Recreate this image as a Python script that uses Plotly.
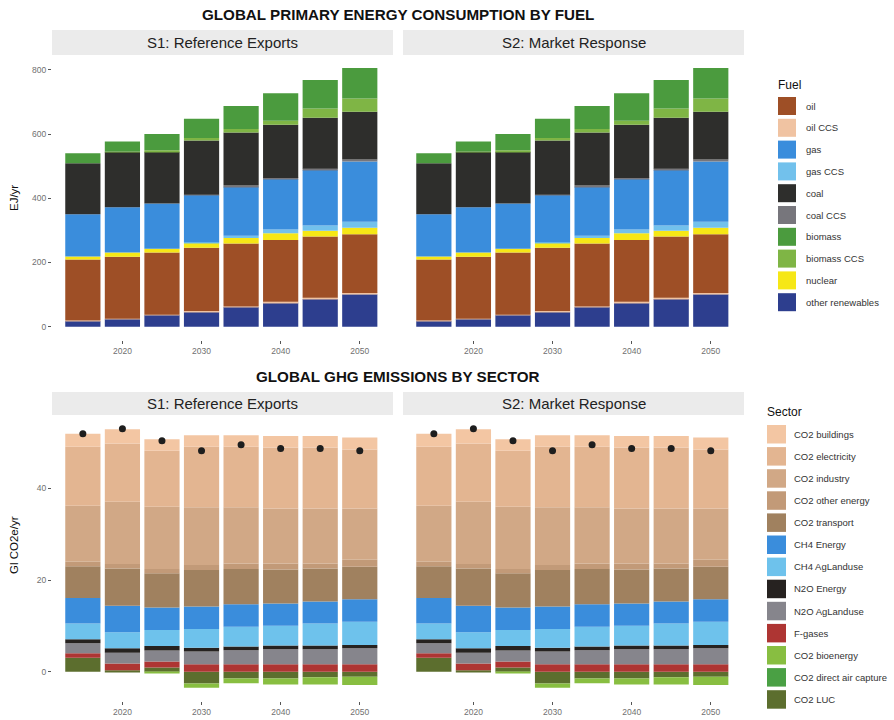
import plotly.graph_objects as go

W, H = 894, 720

years = [2015, 2020, 2025, 2030, 2035, 2040, 2045, 2050]
x_ticks = [2020, 2030, 2040, 2050]
scenarios = ["S1: Reference Exports", "S2: Market Response"]

# ---------------- Energy by fuel (EJ/yr), stacked bottom -> top ----------------
other_renewables = [18, 24, 36, 47, 61, 75, 86, 101]
oil_ccs          = [1, 1, 1, 2, 2, 3, 4, 4]
oil              = [190, 193, 194, 197, 196, 192, 191, 183]
nuclear          = [10, 13, 12, 16, 17, 21, 18, 20]
gas_ccs          = [0, 0, 0, 1, 7, 12, 16, 19]
gas              = [131, 141, 141, 147, 154, 157, 173, 188]
coal_ccs         = [0, 0, 0, 1, 3, 3, 4, 6]
coal             = [159, 173, 161, 169, 165, 166, 159, 149]
biomass_ccs      = [0, 1, 5, 8, 11, 13, 29, 41]
biomass          = [31, 31, 50, 60, 72, 85, 89, 95]

fuel_names = ["oil", "oil CCS", "gas", "gas CCS", "coal", "coal CCS",
              "biomass", "biomass CCS", "nuclear", "other renewables"]
fuel_colors = {
    "oil": "#9E4F26", "oil CCS": "#F0C3A2", "gas": "#3A8DDC",
    "gas CCS": "#72C1EC", "coal": "#2E2E2C", "coal CCS": "#77767C",
    "biomass": "#4B9B3E", "biomass CCS": "#7FB545", "nuclear": "#F6E716",
    "other renewables": "#2D3E8E",
}
fuel_stack = [
    ("other renewables", other_renewables), ("oil CCS", oil_ccs), ("oil", oil),
    ("nuclear", nuclear), ("gas CCS", gas_ccs), ("gas", gas),
    ("coal CCS", coal_ccs), ("coal", coal), ("biomass CCS", biomass_ccs),
    ("biomass", biomass),
]

# ---------------- GHG by sector (Gt CO2e/yr), stacked bottom -> top ----------------
co2_luc        = [3.05, 0.3, 0.9, -2.6, -1.5, -1.5, -1.2, -1.1]
co2_dac        = [0, 0, 0, 0, 0, 0, 0, 0]
co2_bioenergy  = [0, 0, -0.3, -0.9, -1.0, -1.3, -1.6, -1.8]
f_gases        = [0.95, 1.5, 1.3, 1.6, 1.6, 1.6, 1.6, 1.6]
n2o_aglanduse  = [2.2, 2.35, 2.4, 2.8, 3.1, 3.3, 3.3, 3.5]
n2o_energy     = [0.9, 0.95, 1.0, 0.8, 0.8, 0.8, 0.8, 0.7]
ch4_aglanduse  = [3.4, 3.5, 3.5, 4.1, 4.3, 4.3, 4.8, 5.1]
ch4_energy     = [5.6, 5.8, 4.9, 4.9, 4.9, 4.9, 4.8, 4.9]
co2_transport  = [6.9, 8.1, 7.5, 8.0, 7.7, 7.4, 7.2, 7.1]
co2_other      = [1.0, 1.0, 0.9, 1.1, 1.2, 1.3, 1.1, 1.5]
co2_industry   = [12.2, 13.6, 13.6, 12.6, 12.3, 12.0, 12.0, 11.2]
co2_electricity = [12.9, 12.7, 12.2, 13.2, 13.2, 13.3, 13.3, 12.9]
co2_buildings  = [2.8, 3.1, 2.5, 2.5, 2.5, 2.5, 2.5, 2.6]
net_total      = [51.9, 53.0, 50.4, 48.2, 49.5, 48.7, 48.7, 48.2]

sector_names = ["CO2 buildings", "CO2 electricity", "CO2 industry",
                "CO2 other energy", "CO2 transport", "CH4 Energy",
                "CH4 AgLanduse", "N2O Energy", "N2O AgLanduse", "F-gases",
                "CO2 bioenergy", "CO2 direct air capture", "CO2 LUC"]
sector_colors = {
    "CO2 buildings": "#F3C6A3", "CO2 electricity": "#E3B591",
    "CO2 industry": "#D1A886", "CO2 other energy": "#C29A78",
    "CO2 transport": "#A0815F", "CH4 Energy": "#3A8DDC",
    "CH4 AgLanduse": "#6EC2EC", "N2O Energy": "#262220",
    "N2O AgLanduse": "#86858C", "F-gases": "#AE3533",
    "CO2 bioenergy": "#88BE41", "CO2 direct air capture": "#4AA044",
    "CO2 LUC": "#5C6E2E",
}
sector_stack = [
    ("CO2 LUC", co2_luc), ("CO2 direct air capture", co2_dac),
    ("CO2 bioenergy", co2_bioenergy), ("F-gases", f_gases),
    ("N2O AgLanduse", n2o_aglanduse), ("N2O Energy", n2o_energy),
    ("CH4 AgLanduse", ch4_aglanduse), ("CH4 Energy", ch4_energy),
    ("CO2 transport", co2_transport), ("CO2 other energy", co2_other),
    ("CO2 industry", co2_industry), ("CO2 electricity", co2_electricity),
    ("CO2 buildings", co2_buildings),
]

FONT = "Liberation Sans, Arial, Helvetica, sans-serif"
BAR_W = 4.45


def px(x):
    return x / W


def py(y):
    return 1 - y / H


fig = go.Figure()

top_axes = [("x", "y"), ("x2", "y2")]
bot_axes = [("x3", "y3"), ("x4", "y4")]

for xa, ya in top_axes:
    for name, vals in fuel_stack:
        fig.add_trace(go.Bar(x=years, y=vals, name=name, xaxis=xa, yaxis=ya,
                             width=BAR_W, marker_color=fuel_colors[name],
                             marker_line_width=0, showlegend=False))

for xa, ya in bot_axes:
    for name, vals in sector_stack:
        fig.add_trace(go.Bar(x=years, y=vals, name=name, xaxis=xa, yaxis=ya,
                             width=BAR_W, marker_color=sector_colors[name],
                             marker_line_width=0, showlegend=False))
    fig.add_trace(go.Scatter(x=years, y=net_total, mode="markers", xaxis=xa,
                             yaxis=ya, marker=dict(size=7, color="#1E1E1E"),
                             showlegend=False))

panel_x = [(52, 393), (403, 744)]
top_y = (55.4, 339.6)
bot_y = (415.5, 701)

TICKFONT = dict(size=8.5, color="#707070", family=FONT)
xcommon = dict(range=[2011.1, 2054.2], tickvals=x_ticks, ticks="outside",
               ticklen=3, tickcolor="#555", tickwidth=1, tickfont=TICKFONT,
               showgrid=False, zeroline=False, showline=False)
ycommon = dict(ticks="outside", ticklen=3, tickcolor="#555", tickwidth=1,
               tickfont=TICKFONT, showgrid=False, zeroline=False,
               showline=False)

layout = dict(
    width=W, height=H, margin=dict(l=0, r=0, t=0, b=0),
    paper_bgcolor="white", plot_bgcolor="white", barmode="relative",
    font=dict(family=FONT),
)
layout["xaxis"] = dict(domain=[px(52), px(393)], anchor="y", **xcommon)
layout["xaxis2"] = dict(domain=[px(403), px(744)], anchor="y2", **xcommon)
layout["xaxis3"] = dict(domain=[px(52), px(393)], anchor="y3", **xcommon)
layout["xaxis4"] = dict(domain=[px(403), px(744)], anchor="y4", **xcommon)
layout["yaxis"] = dict(domain=[py(top_y[1]), py(top_y[0])], anchor="x",
                       range=[-40.3, 845.3], tickvals=[0, 200, 400, 600, 800],
                       **ycommon)
layout["yaxis2"] = dict(domain=[py(top_y[1]), py(top_y[0])], anchor="x2",
                        range=[-40.3, 845.3], showticklabels=False,
                        showgrid=False, zeroline=False, showline=False)
layout["yaxis3"] = dict(domain=[py(bot_y[1]), py(bot_y[0])], anchor="x3",
                        range=[-6.4, 55.9], tickvals=[0, 20, 40], **ycommon)
layout["yaxis4"] = dict(domain=[py(bot_y[1]), py(bot_y[0])], anchor="x4",
                        range=[-6.4, 55.9], showticklabels=False,
                        showgrid=False, zeroline=False, showline=False)
fig.update_layout(**layout)

shapes = []
annotations = []

annotations.append(dict(text="<b>GLOBAL PRIMARY ENERGY CONSUMPTION BY FUEL</b>",
                        x=px(398), y=py(14), xref="paper", yref="paper",
                        showarrow=False, font=dict(size=15.2, color="#111"),
                        xanchor="center", yanchor="middle"))
annotations.append(dict(text="<b>GLOBAL GHG EMISSIONS BY SECTOR</b>",
                        x=px(398), y=py(376), xref="paper", yref="paper",
                        showarrow=False, font=dict(size=15.2, color="#111"),
                        xanchor="center", yanchor="middle"))

for (y0, y1) in [(30, 55), (392, 415)]:
    for (x0, x1), label in zip(panel_x, scenarios):
        shapes.append(dict(type="rect", xref="paper", yref="paper",
                           x0=px(x0), x1=px(x1), y0=py(y1), y1=py(y0),
                           fillcolor="#EBEBEB", line_width=0, layer="below"))
        annotations.append(dict(text=label, x=px((x0 + x1) / 2),
                                y=py((y0 + y1) / 2), xref="paper", yref="paper",
                                showarrow=False, font=dict(size=15, color="#222"),
                                xanchor="center", yanchor="middle"))

annotations.append(dict(text="EJ/yr", x=px(14), y=py(198), xref="paper",
                        yref="paper", showarrow=False, textangle=-90,
                        font=dict(size=11.5, color="#111"),
                        xanchor="center", yanchor="middle"))
annotations.append(dict(text="Gl CO2e/yr", x=px(14), y=py(545), xref="paper",
                        yref="paper", showarrow=False, textangle=-90,
                        font=dict(size=11.5, color="#111"),
                        xanchor="center", yanchor="middle"))


def legend(title, names, colors, tx, ty, kx, ky0, step, kw, kh, lx):
    annotations.append(dict(text=title, x=px(tx), y=py(ty), xref="paper",
                            yref="paper", showarrow=False,
                            font=dict(size=12, color="#111"),
                            xanchor="left", yanchor="middle"))
    for i, n in enumerate(names):
        top = ky0 + i * step
        shapes.append(dict(type="rect", xref="paper", yref="paper",
                           x0=px(kx), x1=px(kx + kw), y0=py(top + kh),
                           y1=py(top), fillcolor=colors[n], line_width=0))
        annotations.append(dict(text=n, x=px(lx), y=py(top + kh / 2),
                                xref="paper", yref="paper", showarrow=False,
                                font=dict(size=9.5, color="#333"),
                                xanchor="left", yanchor="middle"))


legend("Fuel", fuel_names, fuel_colors, 776, 85, 778, 97, 21.8, 18, 18, 804)
legend("Sector", sector_names, sector_colors, 765, 412, 767, 425, 22.1, 19, 18.5, 792)

fig.update_layout(shapes=shapes, annotations=annotations)
fig.write_html("out.html")
